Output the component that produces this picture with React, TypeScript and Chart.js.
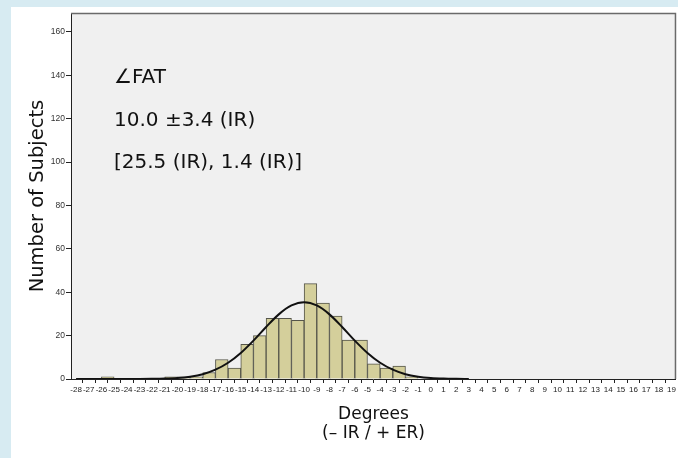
import { useEffect, useRef } from "react";
import { Chart, registerables } from "chart.js";

Chart.register(...registerables);

// Histogram bins: each bin spans [start, start + 1]
const binStarts = [-26, -21, -20, -19, -18, -17, -16, -15, -14, -13, -12, -11, -10, -9, -8, -7, -6, -5, -4, -3, -2];
const binCounts = [1, 1, 1, 1, 3, 9, 5, 16, 20, 28, 28, 27, 44, 35, 29, 18, 18, 7, 5, 6, 1];

// Fitted normal curve
const curveX = [-28, -27, -26, -25, -24, -23, -22, -21, -20, -19, -18, -17, -16, -15, -14, -13, -12, -11, -10, -9, -8, -7, -6, -5, -4, -3, -2, -1, 0, 1, 2, 3];
const curveY = [0, 0, 0, 0, 0.01, 0.02, 0.07, 0.19, 0.47, 1.07, 2.2, 4.3, 7.5, 12.0, 17.7, 24.0, 29.8, 33.9, 35.4, 33.9, 29.8, 24.0, 17.7, 12.0, 7.5, 4.3, 2.2, 1.07, 0.47, 0.19, 0.07, 0.02];

const xTickValues = [-28, -27, -26, -25, -24, -23, -22, -21, -20, -19, -18, -17, -16, -15, -14, -13, -12, -11, -10, -9, -8, -7, -6, -5, -4, -3, -2, -1, 0, 1, 2, 3, 4, 5, 6, 7, 8, 9, 10, 11, 12, 13, 14, 15, 16, 17, 18, 19];
const yTickValues = [0, 20, 40, 60, 80, 100, 120, 140, 160];

const annotationLines = ["∠FAT", "10.0 ±3.4 (IR)", "[25.5 (IR), 1.4 (IR)]"];
const xTitle = ["Degrees", "(– IR / + ER)"];
const yTitle = "Number of Subjects";

const framePlugin = {
  id: "frame",
  beforeDraw(chart: any) {
    const { ctx, chartArea: a } = chart;
    ctx.save();
    ctx.fillStyle = "#f0f0f0";
    ctx.fillRect(a.left, a.top, a.right - a.left, a.bottom - a.top);
    ctx.restore();
  },
  afterDraw(chart: any) {
    const { ctx, chartArea: a } = chart;
    ctx.save();
    ctx.strokeStyle = "#6a6a6a";
    ctx.lineWidth = 1.5;
    ctx.beginPath();
    ctx.moveTo(a.left, a.top + 0.5);
    ctx.lineTo(a.right - 0.5, a.top + 0.5);
    ctx.lineTo(a.right - 0.5, a.bottom);
    ctx.stroke();
    ctx.fillStyle = "#111";
    ctx.font = "20px 'DejaVu Sans'";
    ctx.textBaseline = "alphabetic";
    ctx.textAlign = "left";
    const baselines = [70, 113, 155];
    annotationLines.forEach((t, i) => {
      ctx.fillText(t, a.left + 43, a.top + baselines[i]);
    });
    ctx.restore();
  },
};

export default function App() {
  const ref = useRef<HTMLCanvasElement | null>(null);

  useEffect(() => {
    document.body.style.margin = "0";
    document.body.style.background = "#d7ebf2";
    const canvas = ref.current;
    if (!canvas) return;
    const chart = new Chart(canvas, {
      type: "bar",
      data: {
        datasets: [
          {
            type: "line",
            data: curveX.map((x, i) => ({ x, y: curveY[i] })),
            borderColor: "#111",
            borderWidth: 2,
            pointRadius: 0,
            cubicInterpolationMode: "monotone",
            fill: false,
            order: 0,
          } as any,
          {
            type: "bar",
            data: binStarts.map((s, i) => ({ x: s + 0.5, y: binCounts[i] })),
            backgroundColor: "#d4cf9b",
            borderColor: "#55554a",
            borderWidth: 1,
            barPercentage: 1,
            categoryPercentage: 1,
            order: 1,
          } as any,
        ],
      },
      options: {
        animation: false,
        responsive: false,
        devicePixelRatio: 1,
        layout: { padding: { left: 0, right: 1, top: 6, bottom: 0 } },
        plugins: { legend: { display: false }, tooltip: { enabled: false } },
        scales: {
          x: {
            type: "linear",
            min: -28.4,
            max: 19.35,
            offset: false,
            afterBuildTicks: (s: any) => {
              s.ticks = xTickValues.map((v) => ({ value: v }));
            },
            afterFit: (s: any) => {
              s.height = 79;
            },
            grid: { drawOnChartArea: false, drawTicks: true, tickLength: 4, color: "#222" },
            border: { display: true, color: "#222", width: 1 },
            ticks: {
              autoSkip: false,
              maxRotation: 0,
              minRotation: 0,
              padding: 2,
              color: "#222",
              font: { family: "'Liberation Sans'", size: 8 },
              callback: (v: any) => String(v),
            },
            title: {
              display: true,
              text: xTitle,
              color: "#111",
              font: { family: "'DejaVu Sans'", size: 17, lineHeight: 1.12 },
              padding: { top: 0, bottom: 15 },
            },
          },
          y: {
            type: "linear",
            min: 0,
            max: 168.7,
            afterBuildTicks: (s: any) => {
              s.ticks = yTickValues.map((v) => ({ value: v }));
            },
            afterFit: (s: any) => {
              s.width = 60;
            },
            grid: { drawOnChartArea: false, drawTicks: true, tickLength: 5, color: "#222" },
            border: { display: true, color: "#222", width: 1 },
            ticks: {
              padding: 1,
              color: "#333",
              font: { family: "'Liberation Sans'", size: 8.5 },
              callback: (v: any) => String(v),
            },
            title: {
              display: true,
              text: yTitle,
              color: "#111",
              font: { family: "'DejaVu Sans'", size: 19.5, lineHeight: 1.2 },
              padding: { top: 15, bottom: 0 },
            },
          },
        },
      } as any,
      plugins: [framePlugin],
    });
    return () => chart.destroy();
  }, []);

  return (
    <div style={{ position: "relative", width: 678, height: 458, background: "#d7ebf2", overflow: "hidden" }}>
      <div style={{ position: "absolute", left: 11, top: 7, width: 667, height: 451, background: "#ffffff" }}>
        <canvas ref={ref} width={667} height={451} style={{ display: "block", width: 667, height: 451 }} />
      </div>
    </div>
  );
}
